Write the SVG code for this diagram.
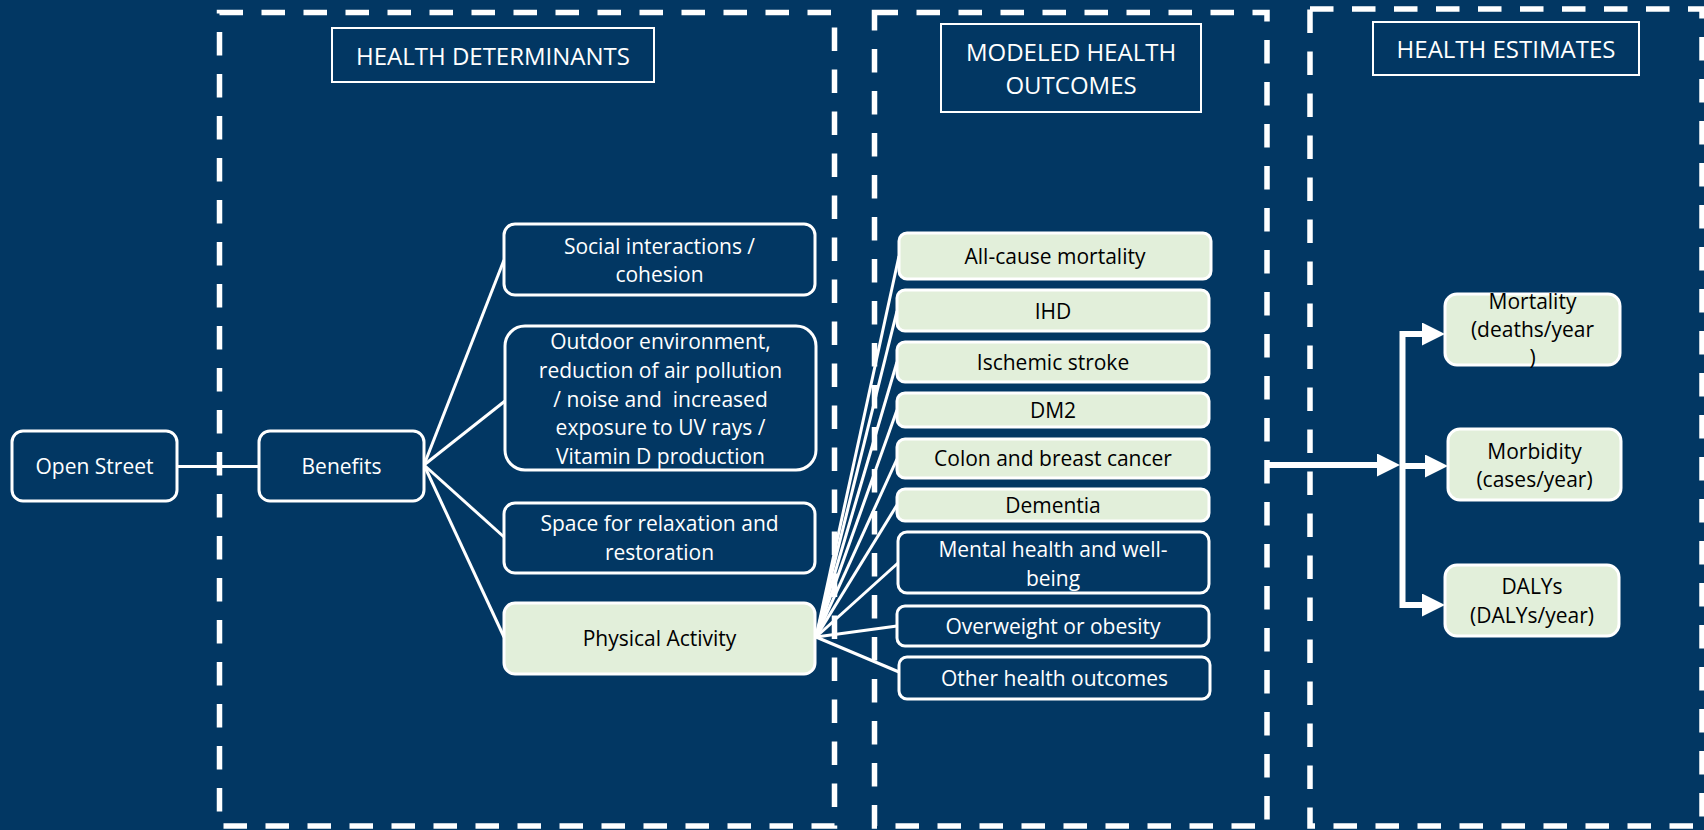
<svg xmlns="http://www.w3.org/2000/svg" width="1704" height="830" viewBox="0 0 1704 830">
<style>
.bg{fill:#023763}
.grp{fill:none;stroke:#fff;stroke-width:5.5;stroke-dasharray:23.5 18.5}
.hdr{fill:none;stroke:#fff;stroke-width:2}
.nd{fill:#023763;stroke:#fff;stroke-width:3}
.gn{fill:#E2EFDA;stroke:#fff;stroke-width:3}
text{font-family:"Open Sans","Liberation Sans",Arial,sans-serif;text-anchor:middle}
.ht{font-size:24px;fill:#fff}
.tw{font-size:21px;fill:#fff}
.tb{font-size:21px;fill:#000}
.ln{stroke:#fff;stroke-width:3;fill:none}
.ar{stroke:#fff;stroke-width:6;fill:none}
</style>
<defs>
<marker id="ah" markerUnits="userSpaceOnUse" markerWidth="23" markerHeight="23" viewBox="0 0 23 23" refX="1" refY="11.5" orient="auto">
<path d="M0,0 L23,11.5 L0,23 z" fill="#fff"/>
</marker>
</defs>
<rect class="bg" x="0" y="0" width="1704" height="830"/>

<g id="groups">
<rect class="grp" x="219.5" y="12.5" width="615" height="813.5"/>
<rect class="grp" x="874.5" y="12.5" width="392.5" height="813.5"/>
<rect class="grp" x="1310" y="9" width="392" height="817"/>
</g>

<g id="connectors">
<line class="ln" x1="177" y1="466.5" x2="259" y2="466.5"/>
<line class="ln" x1="424" y1="465" x2="504" y2="260"/>
<line class="ln" x1="424" y1="465" x2="505" y2="401"/>
<line class="ln" x1="424" y1="465" x2="504" y2="537"/>
<line class="ln" x1="424" y1="465" x2="504" y2="637"/>
<line class="ln" x1="816" y1="637" x2="899" y2="256"/>
<line class="ln" x1="816" y1="637" x2="897" y2="311"/>
<line class="ln" x1="816" y1="637" x2="897" y2="362"/>
<line class="ln" x1="816" y1="637" x2="897" y2="410"/>
<line class="ln" x1="816" y1="637" x2="897" y2="459"/>
<line class="ln" x1="816" y1="637" x2="897" y2="505"/>
<line class="ln" x1="816" y1="637" x2="898" y2="563"/>
<line class="ln" x1="816" y1="637" x2="897" y2="626"/>
<line class="ln" x1="816" y1="637" x2="899" y2="672"/>
<line class="ar" x1="1267" y1="465" x2="1378" y2="465" marker-end="url(#ah)"/>
<path class="ar" d="M1424,334 H1402.5 V605 H1424" stroke-linejoin="miter"/>
<line class="ar" x1="1402" y1="334" x2="1423" y2="334" marker-end="url(#ah)"/>
<line class="ar" x1="1402" y1="466" x2="1426" y2="466" marker-end="url(#ah)"/>
<line class="ar" x1="1402" y1="605" x2="1423" y2="605" marker-end="url(#ah)"/>
</g>

<g id="hdr-determinants"><rect class="hdr" x="332" y="28" width="322" height="54"/><text class="ht" x="493" y="64.5">HEALTH DETERMINANTS</text></g>
<g id="hdr-outcomes"><rect class="hdr" x="941" y="24" width="260" height="88"/><text class="ht" x="1071" y="60.5">MODELED HEALTH</text><text class="ht" x="1071" y="93.5">OUTCOMES</text></g>
<g id="hdr-estimates"><rect class="hdr" x="1373" y="22" width="266" height="53"/><text class="ht" x="1506" y="58">HEALTH ESTIMATES</text></g>

<g id="open-street"><rect class="nd" x="12" y="431" width="165" height="70" rx="11"/><text class="tw" x="94.5" y="474">Open Street</text></g>
<g id="benefits"><rect class="nd" x="259" y="431" width="165" height="70" rx="11"/><text class="tw" x="341.5" y="474">Benefits</text></g>
<g id="social"><rect class="nd" x="504" y="224" width="311" height="71" rx="11"/><text class="tw" x="659.5" y="254">Social interactions /</text><text class="tw" x="659.5" y="282">cohesion</text></g>
<g id="outdoor"><rect class="nd" x="505" y="326" width="311" height="144" rx="20"/>
<text class="tw" x="660.5" y="349">Outdoor environment,</text>
<text class="tw" x="660.5" y="378">reduction of air pollution</text>
<text class="tw" x="660.5" y="407" xml:space="preserve">/ noise and  increased</text>
<text class="tw" x="660.5" y="435">exposure to UV rays /</text>
<text class="tw" x="660.5" y="464">Vitamin D production</text></g>
<g id="space"><rect class="nd" x="504" y="503" width="311" height="70" rx="11"/><text class="tw" x="659.5" y="531">Space for relaxation and</text><text class="tw" x="659.5" y="560">restoration</text></g>
<g id="physical"><rect class="gn" x="504" y="603" width="311" height="71" rx="11"/><text class="tb" x="659.5" y="646">Physical Activity</text></g>

<g id="all-cause"><rect class="gn" x="899" y="233" width="312" height="46" rx="8"/><text class="tb" x="1055" y="264">All-cause mortality</text></g>
<g id="ihd"><rect class="gn" x="897" y="290" width="312" height="41" rx="8"/><text class="tb" x="1053" y="318.5">IHD</text></g>
<g id="stroke"><rect class="gn" x="897" y="342" width="312" height="40" rx="8"/><text class="tb" x="1053" y="369.5">Ischemic stroke</text></g>
<g id="dm2"><rect class="gn" x="897" y="393" width="312" height="34" rx="8"/><text class="tb" x="1053" y="417.5">DM2</text></g>
<g id="colon"><rect class="gn" x="897" y="439" width="312" height="39" rx="8"/><text class="tb" x="1053" y="466">Colon and breast cancer</text></g>
<g id="dementia"><rect class="gn" x="897" y="489" width="312" height="32" rx="8"/><text class="tb" x="1053" y="512.5">Dementia</text></g>
<g id="mental"><rect class="nd" x="898" y="532" width="311" height="61" rx="9"/><text class="tw" x="1053" y="557">Mental health and well-</text><text class="tw" x="1053" y="586">being</text></g>
<g id="overweight"><rect class="nd" x="897" y="606" width="312" height="40" rx="8"/><text class="tw" x="1053" y="634">Overweight or obesity</text></g>
<g id="other"><rect class="nd" x="899" y="657" width="311" height="42" rx="8"/><text class="tw" x="1054.5" y="685.5">Other health outcomes</text></g>

<g id="mortality"><rect class="gn" x="1445" y="294" width="175" height="71" rx="12"/><text class="tb" x="1532.5" y="309">Mortality</text><text class="tb" x="1532.5" y="337">(deaths/year</text><text class="tb" x="1532.5" y="365">)</text></g>
<g id="morbidity"><rect class="gn" x="1448" y="429" width="173" height="71" rx="12"/><text class="tb" x="1534.5" y="459">Morbidity</text><text class="tb" x="1534.5" y="487">(cases/year)</text></g>
<g id="dalys"><rect class="gn" x="1445" y="565" width="174" height="71" rx="12"/><text class="tb" x="1532" y="594">DALYs</text><text class="tb" x="1532" y="623">(DALYs/year)</text></g>
</svg>
